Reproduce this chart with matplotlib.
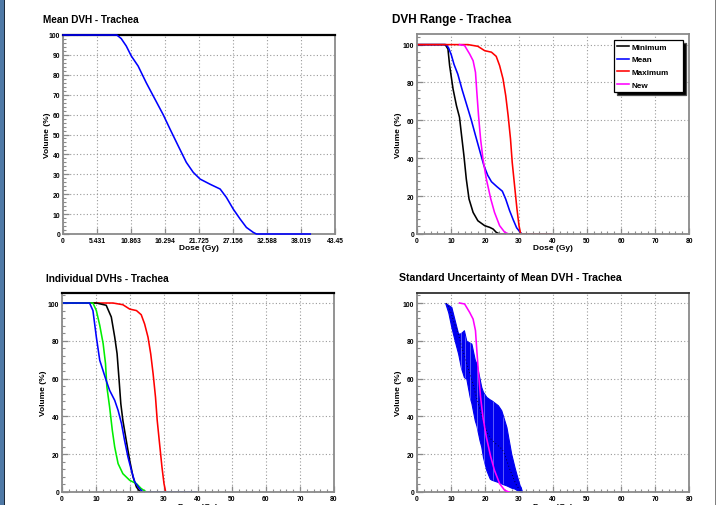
import numpy as np
import matplotlib
matplotlib.use("Agg")
import matplotlib.pyplot as plt
from matplotlib.patches import Rectangle
from matplotlib.ticker import MultipleLocator

plt.rcParams['font.family'] = ['Liberation Sans', 'DejaVu Sans']
plt.rcParams['font.weight'] = 'bold'

# ---------------- data ----------------
mean_dose = [0, 8.6, 9.3, 10.1, 10.9, 12.0, 13.3, 14.7, 16.0, 17.1, 18.4, 19.7, 20.8, 21.9,
             23.5, 25.1, 26.1, 27.2, 28.3, 29.3, 30.4, 30.9, 39.5]
mean_vol = [100, 100, 98.2, 94.5, 89.5, 84.4, 76, 67.7, 60, 52.7, 44.3, 36, 31, 27.6,
            25, 22.6, 18.4, 12.5, 7.5, 3.3, 0.8, 0, 0]

min_dose = [0, 8.3, 9.1, 9.6, 10.6, 11.6, 12.5, 13.0, 13.8, 14.5, 15.3, 16.5, 17.9, 19.9,
            21.4, 22.4, 23.3, 24.3, 39.5]
min_vol = [100, 100, 97.7, 88.9, 76.6, 67.8, 61.6, 53.7, 41.4, 29, 18.5, 11.4, 7, 4.4,
           3.5, 2.6, 0.9, 0, 0]

max_dose = [0, 15.0, 17.9, 19.9, 21.9, 23.3, 24.3, 25.3, 26.1, 26.8, 27.5, 28.0, 28.7, 29.4,
            30.0, 30.5, 39.5]
max_vol = [100, 100, 99.1, 96.8, 96, 93.8, 88.9, 81.9, 73, 62.5, 50.2, 37.9, 25.5, 13.2,
           4.4, 0, 0]

new_dose = [12.5, 14.0, 15.5, 16.5, 17.2, 17.6, 18.1, 18.7, 19.4, 20.4, 21.7, 22.8, 24.3,
            25.8, 27.0]
new_vol = [100, 99.5, 95, 91.5, 85.4, 74.8, 62.5, 50.2, 39.6, 29, 18.5, 11.4, 4.4, 0.9, 0]

ind_black_dose = [0, 10.1, 13.0, 14.5, 15.5, 16.2, 16.8, 17.3, 17.9, 18.9, 19.9, 20.9, 21.9,
                  22.8, 23.8, 39.5]
ind_black_vol = [100, 100, 98.8, 92.6, 82, 73.2, 59, 46.7, 37.9, 27.3, 16.8, 7.9, 2.6,
                 0.5, 0, 0]
ind_green_dose = [0, 9.1, 10.1, 11.1, 12.1, 12.8, 13.2, 14.0, 14.8, 15.5, 16.5, 17.9, 19.9,
                  21.9, 23.3, 24.8, 39.5]
ind_green_vol = [100, 100, 96, 88.2, 78.5, 67.9, 55.6, 45, 32.6, 23.8, 15, 9.7, 6.2,
                 4.4, 1.8, 0, 0]
ind_blue_dose = [0, 8.1, 9.1, 10.1, 11.1, 13.0, 14.0, 15.5, 16.5, 17.5, 18.4, 19.4, 20.4,
                 21.4, 22.8, 23.8, 39.5]
ind_blue_vol = [100, 100, 96, 82, 69.7, 59, 53.8, 48.5, 43.2, 36.2, 27.3, 18.5, 11.5,
                5.3, 1.8, 0, 0]

band_dose = [8.3, 9.2, 10.1, 11.1, 12.1, 12.9, 13.8, 14.5, 15.5, 16.0, 17.0, 17.5, 18.4,
             18.9, 19.4, 20.4, 21.4, 21.9, 23.8, 24.8, 26.3, 27.7, 28.7, 29.2, 30.2, 30.5, 30.9]
band_upper = [100, 99, 97.9, 90.8, 83.8, 84, 85.6, 80, 79, 78.5, 70, 67.9, 60,
              55.6, 53, 50.3, 49, 48.5, 45.9, 43.2, 34.4, 20.3, 13, 9.7, 3.5, 2.6, 0]
band_lower = [100, 95, 87.3, 80, 73.2, 66, 60.8, 60, 50.3, 47, 37.9, 35, 27.3,
              24, 18.5, 11.5, 7.1, 6.5, 5.3, 4.5, 3.5, 2.3, 1.8, 1.2, 0.3, 0, 0]
stripe_dose = [12.8, 14.0, 15.5, 17.7, 19.8, 22.4, 25.3]

p1_xticks = [0, 5.431, 10.863, 16.294, 21.725, 27.156, 32.588, 38.019, 43.45]
p1_xticklabels = ["0", "5.431", "10.863", "16.294", "21.725", "27.156", "32.588", "38.019", "43.45"]

titles = ["Mean DVH - Trachea", "DVH Range - Trachea", "Individual DVHs - Trachea",
          "Standard Uncertainty of Mean DVH - Trachea"]
legend_labels = ["Minimum", "Mean", "Maximum", "New"]

# ---------------- figure ----------------
W, H = 717, 506
fig = plt.figure(figsize=(W / 100, H / 100), dpi=100)
fig.patch.set_facecolor('white')

# window frame strips
fig.patches.append(Rectangle((0, 0), 4 / W, 1, transform=fig.transFigure,
                             facecolor='#4f79a6', edgecolor='none', zorder=0))
fig.patches.append(Rectangle((4 / W, 0), 1.2 / W, 1, transform=fig.transFigure,
                             facecolor='#1c2a3a', edgecolor='none', zorder=0))
fig.patches.append(Rectangle((714.5 / W, 0), 1.2 / W, 1, transform=fig.transFigure,
                             facecolor='#808080', edgecolor='none', zorder=0))


def px_axes(x0, y0, x1, y1):
    return fig.add_axes([x0 / W, 1 - y1 / H, (x1 - x0) / W, (y1 - y0) / H])


GRAY = '#8a8a8a'


def style(ax, top_color, ymax, ymajor, yminor, xmajor=None, xminor=None, ylabelpad=-1.5):
    ax.set_ylim(0, ymax)
    for s in ['left', 'bottom', 'right']:
        ax.spines[s].set_color(GRAY)
        ax.spines[s].set_linewidth(1.3)
    ax.spines['top'].set_color(top_color)
    ax.spines['top'].set_linewidth(1.6 if top_color == 'black' else 1.3)
    ax.yaxis.set_major_locator(MultipleLocator(ymajor))
    ax.yaxis.set_minor_locator(MultipleLocator(yminor))
    if xmajor is not None:
        ax.xaxis.set_major_locator(MultipleLocator(xmajor))
    if xminor is not None:
        ax.xaxis.set_minor_locator(MultipleLocator(xminor))
    ax.tick_params(which='both', direction='in', colors=GRAY, labelcolor='black',
                   labelsize=4.9, top=False, right=False)
    ax.tick_params(which='major', length=4.2, width=0.9, pad=2)
    ax.tick_params(which='minor', length=2.2, width=0.8)
    for lab in ax.get_xticklabels() + ax.get_yticklabels():
        lab.set_fontweight('bold')
    ax.grid(True, which='major', color='#9a9a9a', linestyle=(0, (1, 2)), linewidth=0.8)
    ax.set_axisbelow(True)
    ax.set_ylabel("Volume (%)", fontsize=6, fontweight='bold', labelpad=ylabelpad)
    ax.set_xlabel("Dose (Gy)", fontsize=6, fontweight='bold', labelpad=0.5)


LW = 1.15

# Panel 1
ax1 = px_axes(63, 36, 335, 235)
ax1.set_xlim(0, 43.45)
ax1.set_xticks(p1_xticks)
ax1.set_xticklabels(p1_xticklabels)
style(ax1, 'black', 100, 10, 2, ylabelpad=-1.5)
ax1.plot(mean_dose, mean_vol, color='#0000ff', lw=LW, clip_on=False, zorder=5)
fig.text(43 / W, 1 - 20 / H, titles[0], fontsize=7.2, fontweight='bold', va='center', ha='left')

# Panel 2
ax2 = px_axes(417, 35, 689, 235)
l1, = ax2.plot(min_dose, min_vol, color='black', lw=LW)
l2, = ax2.plot(mean_dose, mean_vol, color='#0000ff', lw=LW)
l3, = ax2.plot(max_dose, max_vol, color='#ff0000', lw=LW)
l4, = ax2.plot(new_dose, new_vol, color='#ff00ff', lw=LW)
ax2.set_xlim(0, 80)
style(ax2, GRAY, 105.6, 20, 4, 10, 2, ylabelpad=0.5)
leg = ax2.legend([l1, l2, l3, l4], legend_labels, loc='upper left',
                 bbox_to_anchor=(0.724, 0.715, 0.254, 0.255), mode='expand',
                 fontsize=5.9, frameon=True, fancybox=False,
                 shadow={'facecolor': 'black', 'alpha': 1.0}, edgecolor='black',
                 handlelength=1.5, handletextpad=0.35, labelspacing=0.62,
                 borderpad=0.35, borderaxespad=0)
leg.get_frame().set_linewidth(0.9)
for t in leg.get_texts():
    t.set_fontweight('bold')
fig.text(392 / W, 1 - 20 / H, titles[1], fontsize=8.5, fontweight='bold', va='center', ha='left')

# Panel 3
ax3 = px_axes(62, 294, 334, 493)
ax3.plot(max_dose, max_vol, color='#ff0000', lw=LW)
ax3.plot(ind_black_dose, ind_black_vol, color='black', lw=LW)
ax3.plot(ind_green_dose, ind_green_vol, color='#00ee00', lw=LW)
ax3.plot(ind_blue_dose, ind_blue_vol, color='#0000ff', lw=LW)
ax3.set_xlim(0, 80)
style(ax3, 'black', 105.3, 20, 4, 10, 2, ylabelpad=0.5)
ax3.xaxis.labelpad = 1
fig.text(46 / W, 1 - 279 / H, titles[2], fontsize=7.2, fontweight='bold', va='center', ha='left')

# Panel 4
ax4 = px_axes(417, 294, 689, 493)
poly = ax4.fill_between(band_dose, band_lower, band_upper, color='#0000f0', lw=0.8,
                        edgecolor='#0000f0', zorder=2)
stripes = ax4.vlines(stripe_dose, 0, 105, color='#8080ff', lw=0.5, zorder=2.5)
path = poly.get_paths()[0]
stripes.set_clip_path(path, ax4.transData)
ax4.plot(mean_dose[1:-1], mean_vol[1:-1], color='black', lw=0.6, linestyle=(0, (1, 3)), zorder=3)
ax4.plot(new_dose, new_vol, color='#ff00ff', lw=LW, zorder=4)
ax4.set_xlim(0, 80)
style(ax4, '#303030', 105.3, 20, 4, 10, 2, ylabelpad=0.5)
ax4.xaxis.labelpad = 1
fig.text(399 / W, 1 - 278 / H, titles[3], fontsize=7.6, fontweight='bold', va='center', ha='left')

fig.savefig("out.png", dpi=100)
